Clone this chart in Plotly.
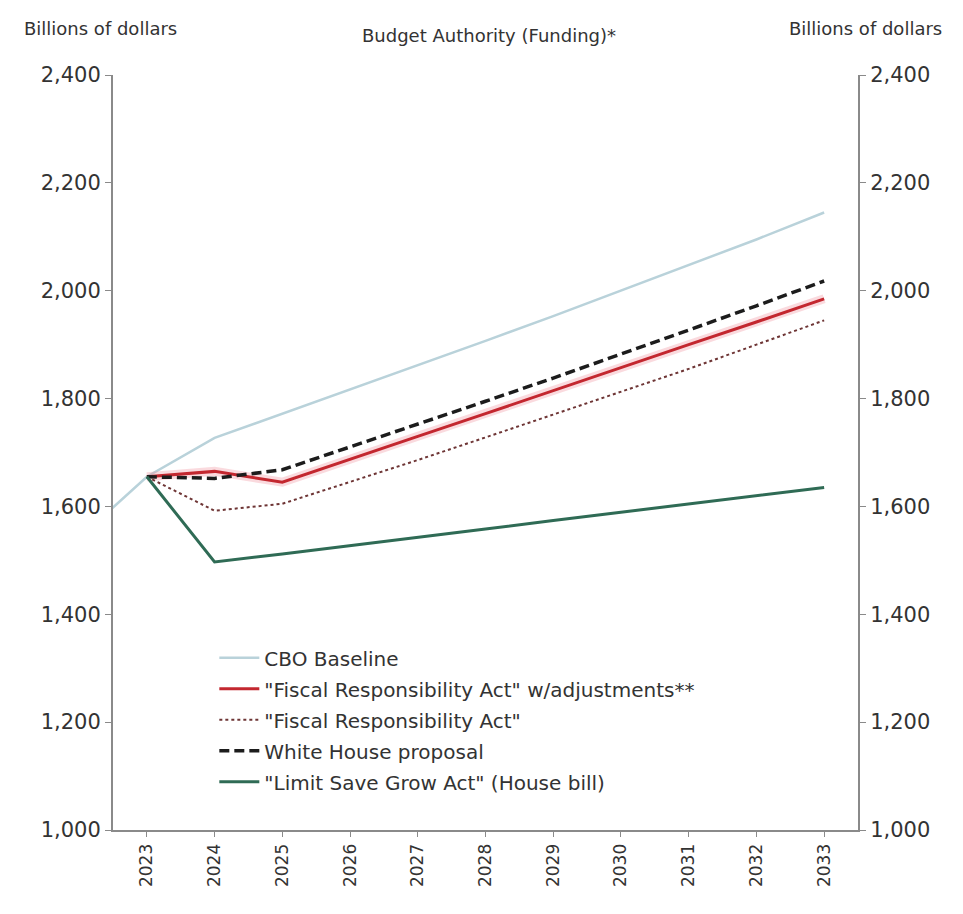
import plotly.graph_objects as go

# Fiscal years shown on the horizontal axis
years = [2023, 2024, 2025, 2026, 2027, 2028, 2029, 2030, 2031, 2032, 2033]
year_labels = [str(y) for y in years]

# CBO baseline also carries FY2022 so the line enters from the left edge
cbo_years = [2022] + years
cbo_baseline = [1541, 1655, 1727, 1772, 1816, 1862, 1907, 1953, 2000, 2048, 2095, 2145]

fra_adjusted = [1655, 1665, 1645, 1688, 1730, 1772, 1815, 1857, 1900, 1942, 1985]
fra = [1655, 1592, 1605, 1645, 1686, 1728, 1770, 1812, 1855, 1900, 1945]
white_house = [1655, 1652, 1668, 1710, 1752, 1795, 1838, 1882, 1927, 1972, 2018]
limit_save_grow = [1655, 1497, 1512, 1527, 1543, 1558, 1574, 1589, 1605, 1620, 1635]

y_ticks = [1000, 1200, 1400, 1600, 1800, 2000, 2200, 2400]

FONT = "DejaVu Sans"
TXT = "#333333"
AXIS = "#8a8a8a"

fig = go.Figure()

fig.add_trace(go.Scatter(
    x=cbo_years, y=cbo_baseline, mode="lines", name="CBO Baseline",
    legendgroup="cbo",
    line=dict(color="#b9d2da", width=2.5)))

# soft halo under the FRA-with-adjustments line
fig.add_trace(go.Scatter(
    x=years, y=fra_adjusted, mode="lines", showlegend=False, hoverinfo="skip",
    legendgroup="fra_adj",
    line=dict(color="rgba(240,150,160,0.35)", width=9)))

fig.add_trace(go.Scatter(
    x=years, y=fra_adjusted, mode="lines",
    name="\"Fiscal Responsibility Act\" w/adjustments**",
    legendgroup="fra_adj",
    line=dict(color="#c3272f", width=3)))

fig.add_trace(go.Scatter(
    x=years, y=fra, mode="lines", name="\"Fiscal Responsibility Act\"",
    legendgroup="fra",
    line=dict(color="#6e3535", width=2, dash="dot")))

fig.add_trace(go.Scatter(
    x=years, y=white_house, mode="lines", name="White House proposal",
    legendgroup="wh",
    line=dict(color="#1c1c1c", width=3.5, dash="10px,5px")))

fig.add_trace(go.Scatter(
    x=years, y=limit_save_grow, mode="lines",
    name="\"Limit Save Grow Act\" (House bill)",
    legendgroup="lsg",
    line=dict(color="#2f6b55", width=3)))

# invisible trace so the right-hand value axis is drawn
fig.add_trace(go.Scatter(
    x=[years[0]], y=[y_ticks[0]], yaxis="y2", mode="markers",
    marker=dict(opacity=0), showlegend=False, hoverinfo="skip"))

fig.update_layout(
    width=963, height=914,
    margin=dict(l=113, r=105, t=75, b=84),
    paper_bgcolor="white", plot_bgcolor="white",
    font=dict(family=FONT, color=TXT, size=18),
    showlegend=True,
    legend=dict(
        x=0.136, y=0.254, xanchor="left", yanchor="top",
        bgcolor="rgba(0,0,0,0)", font=dict(size=20, family=FONT, color=TXT),
        itemwidth=40, tracegroupgap=2),
    xaxis=dict(
        range=[2022.5, 2033.5], tickmode="array", tickvals=years,
        ticktext=year_labels, tickangle=-90,
        showline=True, linecolor=AXIS, linewidth=2,
        ticks="outside", ticklen=5, tickcolor=AXIS,
        showgrid=False, zeroline=False,
        tickfont=dict(size=17, family=FONT, color=TXT)),
    yaxis=dict(
        range=[1000, 2400], tickmode="array", tickvals=y_ticks,
        tickformat=",d", showline=True, linecolor=AXIS, linewidth=2,
        ticks="outside", ticklen=6, tickcolor=AXIS,
        showgrid=False, zeroline=False,
        tickfont=dict(size=21, family=FONT, color=TXT)),
    yaxis2=dict(
        range=[1000, 2400], tickmode="array", tickvals=y_ticks,
        tickformat=",d", overlaying="y", side="right",
        showline=True, linecolor=AXIS, linewidth=2,
        ticks="outside", ticklen=6, tickcolor=AXIS,
        showgrid=False, zeroline=False,
        tickfont=dict(size=21, family=FONT, color=TXT)),
    annotations=[
        dict(text="Billions of dollars", xref="paper", yref="paper",
             x=-0.122, y=1.062, xanchor="left", yanchor="middle",
             showarrow=False, font=dict(size=18, family=FONT, color=TXT)),
        dict(text="Budget Authority (Funding)*", xref="paper", yref="paper",
             x=0.505, y=1.052, xanchor="center", yanchor="middle",
             showarrow=False, font=dict(size=18, family=FONT, color=TXT)),
        dict(text="Billions of dollars", xref="paper", yref="paper",
             x=1.115, y=1.062, xanchor="right", yanchor="middle",
             showarrow=False, font=dict(size=18, family=FONT, color=TXT)),
    ],
)

fig.write_html("out.html")
